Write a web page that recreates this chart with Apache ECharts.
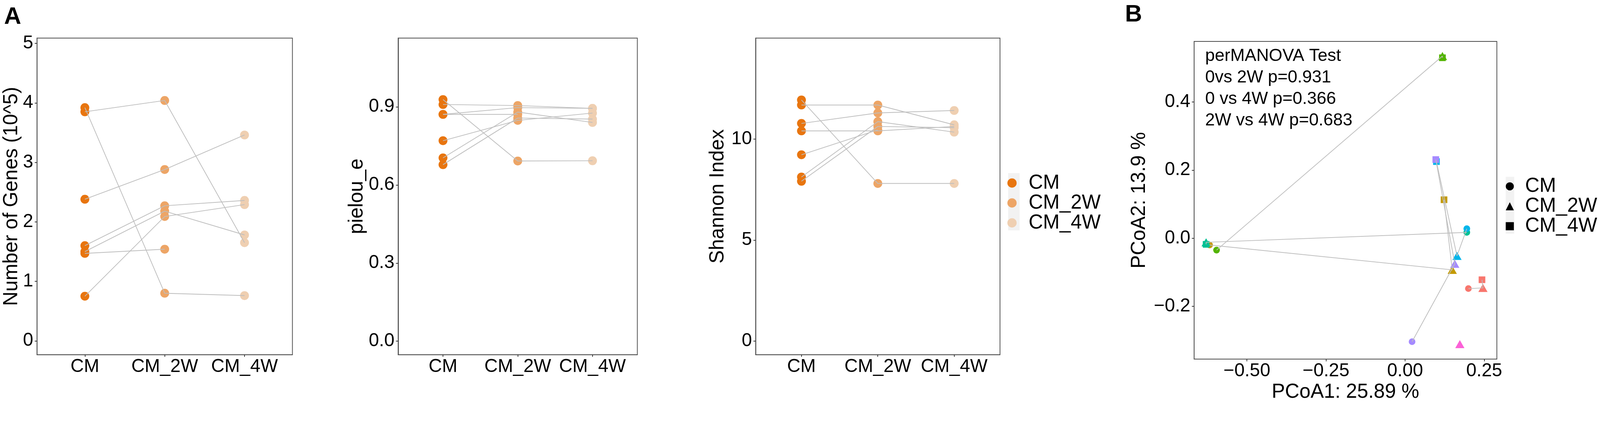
<!DOCTYPE html>
<html lang="en">
<head>
<meta charset="UTF-8">
<title>Diversity and PCoA</title>
<style>
  html, body { margin: 0; padding: 0; background: #fff; overflow: hidden; }
  #chart { width: 100vw; height: 100vh; }
</style>
</head>
<body>
<div id="chart"></div>
<script src="https://cdn.jsdelivr.net/npm/echarts@6/dist/echarts.min.js"></script>
<script>
// ---- data ----
const groups = ['CM', 'CM_2W', 'CM_4W'];
const groupColors = ['#E8750F', '#EDA566', '#EFCFB1'];

// panel A1: number of genes (10^5), one entry per subject
const genesCM = [3.85, 3.92, 2.38, 1.60, 1.50, 1.47, 0.75];
const genes2W = [4.04, 0.80, 2.88, 2.27, 2.18, 1.54, 2.09];
const genes4W = [1.65, 0.76, 3.46, 2.36, 1.78, null, 2.29];

// panel A2: pielou_e
const pielouCM = [0.928, 0.909, 0.871, 0.871, 0.770, 0.704, 0.678];
const pielou2W = [0.692, 0.905, 0.897, 0.871, 0.848, 0.880, 0.857];
const pielou4W = [0.693, 0.894, 0.894, null, 0.876, 0.840, 0.853];

// panel A3: Shannon index
const shannonCM = [11.93, 11.68, 10.77, 10.40, 9.22, 8.12, 7.91];
const shannon2W = [7.80, 11.68, 11.29, 10.40, 10.45, 10.86, 10.62];
const shannon4W = [7.80, 10.70, 11.41, 10.62, null, 10.34, 10.56];

// panel B: PCoA coordinates per subject [PCoA1, PCoA2]
const subjColors = ['#F8766D', '#C49A00', '#53B400', '#00C094', '#00B6EB', '#A58AFF', '#FB61D7'];
const pcoaCM = [[0.200, -0.148], [-0.618, -0.020], [-0.596, -0.035], [0.195, 0.017], [0.195, 0.028], [0.022, -0.304], null];
const pcoa2W = [[0.246, -0.146], [0.149, -0.093], [0.118, 0.535], [-0.629, -0.012], [0.164, -0.052], [0.157, -0.075], [0.173, -0.311]];
const pcoa4W = [[0.243, -0.122], [0.123, 0.113], [0.118, 0.530], [-0.629, -0.018], [0.099, 0.225], [0.097, 0.231], null];

const yTicks1 = [0, 1, 2, 3, 4, 5];
const yTicks2 = [0, 0.3, 0.6, 0.9];
const yTicks3 = [0, 5, 10];
const pcoaXTicks = [-0.5, -0.25, 0, 0.25];
const pcoaYTicks = [-0.2, 0, 0.2, 0.4];
const statLines = ['perMANOVA Test', '0vs 2W p=0.931', '0 vs 4W p=0.366', '2W vs 4W p=0.683'];

// ---- chart ----
const FONT = 'Liberation Sans, Arial, Helvetica, sans-serif';
const el = document.getElementById('chart');
// layout was measured on a 4328x1080 canvas; scale to whatever the viewport is
const S = Math.min((el.clientWidth || 4328) / 4328, (el.clientHeight || 1080) / 1080);
const px = v => v * S;
const chart = echarts.init(el, null, { renderer: 'canvas' });

const minus = s => s.replace('-', '\u2212');

function gridBox(left, top, width, height) {
  return {
    left: px(left), top: px(top), width: px(width), height: px(height),
    show: true, borderColor: '#4D4D4D', borderWidth: px(2), backgroundColor: '#fff'
  };
}

function axisCommon(ticks, fmt, margin) {
  return {
    axisLine: { show: true, onZero: false, lineStyle: { color: '#4D4D4D', width: px(2) } },
    axisTick: { show: true, length: px(6), lineStyle: { color: '#333', width: px(2) }, customValues: ticks },
    axisLabel: { customValues: ticks, formatter: fmt, fontSize: px(50), color: '#000', fontFamily: FONT, margin: px(margin) },
    splitLine: { show: false }
  };
}

function nameStyle() {
  return { fontSize: px(54), color: '#000', fontFamily: FONT };
}

const panels = [
  { cm: genesCM, w2: genes2W, w4: genes4W, min: -0.232, max: 5.089, ticks: yTicks1, fmt: v => String(Math.round(v)), name: 'Number of Genes (10^5)', gap: 40 },
  { cm: pielouCM, w2: pielou2W, w4: pielou4W, min: -0.0516, max: 1.164, ticks: yTicks2, fmt: v => v.toFixed(1), name: 'pielou_e', gap: 84 },
  { cm: shannonCM, w2: shannon2W, w4: shannon4W, min: -0.665, max: 14.99, ticks: yTicks3, fmt: v => String(Math.round(v)), name: 'Shannon Index', gap: 75 }
];

const grids = [
  gridBox(100, 103, 691, 856),
  gridBox(1077, 103, 647, 856),
  gridBox(2044, 103, 661, 856),
  gridBox(3230, 112, 819, 859)
];

const xAxes = [];
const yAxes = [];
const series = [];

panels.forEach((p, k) => {
  xAxes.push(Object.assign({ type: 'value', gridIndex: k, min: 0.4, max: 3.6 },
    axisCommon([1, 2, 3], v => groups[Math.round(v) - 1], 8)));
  yAxes.push(Object.assign({
    type: 'value', gridIndex: k, min: p.min, max: p.max,
    name: p.name, nameLocation: 'middle', nameGap: px(p.gap), nameTextStyle: nameStyle()
  }, axisCommon(p.ticks, p.fmt, 10)));

  const vals = [p.cm, p.w2, p.w4];
  vals.forEach((arr, g) => {
    series.push({
      type: 'scatter', name: groups[g], xAxisIndex: k, yAxisIndex: k,
      symbol: 'circle', symbolSize: px(24), z: 2,
      itemStyle: { color: groupColors[g], opacity: 1 },
      data: arr.filter(v => v !== null).map(v => [g + 1, v])
    });
  });
  // grey lines joining each subject's samples, drawn over the dots
  p.cm.forEach((_, i) => {
    const pts = [];
    vals.forEach((arr, g) => { if (arr[i] !== null) pts.push([g + 1, arr[i]]); });
    series.push({
      type: 'line', xAxisIndex: k, yAxisIndex: k, data: pts, z: 3, silent: true,
      symbol: 'none', lineStyle: { color: '#BEBEBE', width: px(2) }
    });
  });
});

// panel B axes
xAxes.push(Object.assign({
  type: 'value', gridIndex: 3, min: -0.667, max: 0.29,
  name: 'PCoA1: 25.89 %', nameLocation: 'middle', nameGap: px(52), nameTextStyle: nameStyle()
}, axisCommon(pcoaXTicks, v => minus(v.toFixed(2)), 8)));
yAxes.push(Object.assign({
  type: 'value', gridIndex: 3, min: -0.355, max: 0.578,
  name: 'PCoA2: 13.9 %', nameLocation: 'middle', nameGap: px(121), nameTextStyle: nameStyle()
}, axisCommon(pcoaYTicks, v => minus(v.toFixed(1)), 10)));

const pcoaSets = [pcoaCM, pcoa2W, pcoa4W];
const pcoaShapes = ['circle', 'triangle', 'rect'];
const pcoaSizes = [px(18), [px(25), px(22)], px(18)];

subjColors.forEach((_, i) => {
  const pts = pcoaSets.map(s => s[i]).filter(v => v !== null);
  series.push({
    type: 'line', xAxisIndex: 3, yAxisIndex: 3, data: pts, z: 3, silent: true,
    symbol: 'none', lineStyle: { color: '#BEBEBE', width: px(2) }
  });
});
pcoaSets.forEach((set, g) => {
  series.push({
    type: 'scatter', name: groups[g], xAxisIndex: 3, yAxisIndex: 3,
    symbol: pcoaShapes[g], symbolSize: pcoaSizes[g], z: 2,
    data: set.map((pt, i) => pt === null ? null : { value: pt, itemStyle: { color: subjColors[i], opacity: 1 } })
      .filter(d => d !== null)
  });
});

const option = {
  animation: false,
  backgroundColor: '#fff',
  grid: grids,
  xAxis: xAxes,
  yAxis: yAxes,
  series: series,
  legend: [
    {
      orient: 'vertical', left: px(2725), top: px(468), padding: 0,
      itemWidth: px(25), itemHeight: px(25), itemGap: 0, symbolKeepAspect: true,
      icon: 'circle', selectedMode: false,
      textStyle: { fontSize: px(54), lineHeight: px(51.5), color: '#000', fontFamily: FONT, padding: [0, 0, 0, px(27)] },
      data: groups.map((g, i) => ({ name: g, itemStyle: { color: groupColors[i] } }))
    },
    {
      orient: 'vertical', left: px(4073), top: px(477), padding: 0,
      itemWidth: px(22), itemHeight: px(22), itemGap: 0, symbolKeepAspect: true,
      selectedMode: false,
      textStyle: { fontSize: px(54), lineHeight: px(52), color: '#000', fontFamily: FONT, padding: [0, 0, 0, px(25)] },
      data: groups.map((g, i) => ({ name: g, icon: pcoaShapes[i], itemStyle: { color: '#000' } }))
    }
  ],
  graphic: [
    { type: 'rect', left: px(2727), top: px(468), shape: { width: px(31), height: px(155) }, style: { fill: '#F2F2F2' }, z: -1 },
    { type: 'rect', left: px(4073), top: px(478), shape: { width: px(23), height: px(154) }, style: { fill: '#F2F2F2' }, z: -1 },
    { type: 'text', left: px(11), top: px(15), style: { text: 'A', font: 'bold ' + px(64) + 'px ' + FONT, fill: '#000' } },
    { type: 'text', left: px(3043), top: px(8), style: { text: 'B', font: 'bold ' + px(64) + 'px ' + FONT, fill: '#000' } },
    { type: 'text', left: px(3260), top: px(123), z: 10,
      style: { text: statLines.join('\n'), font: px(47) + 'px ' + FONT, lineHeight: px(58), fill: '#000' } }
  ]
};

chart.setOption(option);
window.addEventListener('resize', () => chart.resize());
</script>
</body>
</html>
